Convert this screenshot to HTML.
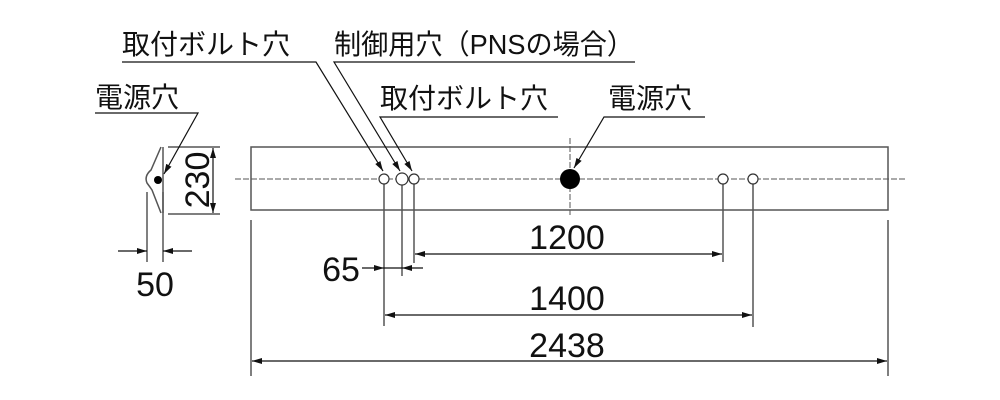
<!DOCTYPE html>
<html><head><meta charset="utf-8"><style>
html,body{margin:0;padding:0;background:#fff;}
svg{display:block;}
text{font-family:"Liberation Sans","Noto Sans CJK JP",sans-serif;fill:#111;}
</style></head><body>
<svg width="1000" height="400" viewBox="0 0 1000 400" xmlns="http://www.w3.org/2000/svg">
<defs>
<marker id="a" viewBox="0 0 10 6" refX="10" refY="3" markerWidth="10" markerHeight="6" markerUnits="userSpaceOnUse" orient="auto"><path d="M0,0L10,3L0,6z" fill="#111"/></marker>
</defs>
<g stroke="#555" stroke-width="1.5" fill="none">
<rect x="251" y="147" width="637" height="63"/>
<line x1="235" y1="179" x2="905" y2="179" stroke-dasharray="6,2" stroke-width="1"/>
<line x1="570" y1="138" x2="570" y2="215" stroke-dasharray="6,2" stroke-width="1"/>
<line x1="384" y1="184" x2="384" y2="326"/>
<line x1="402" y1="185" x2="402" y2="276"/>
<line x1="414" y1="184" x2="414" y2="263"/>
<line x1="723" y1="184" x2="723" y2="262"/>
<line x1="753" y1="184" x2="753" y2="327"/>
<line x1="251" y1="220" x2="251" y2="376"/>
<line x1="888" y1="220" x2="888" y2="376"/>
<line x1="163" y1="147" x2="163" y2="213"/>
<path d="M161,147 L151,170 Q144,176 147,183 Q150,187 152,190 L161,213"/>
<line x1="168" y1="147" x2="220" y2="147"/>
<line x1="168" y1="214" x2="220" y2="214"/>
<line x1="147" y1="192" x2="147" y2="262"/>
<line x1="163" y1="192" x2="163" y2="262"/>
</g>
<circle cx="158" cy="180" r="4" fill="#000"/>
<g stroke="#333" stroke-width="1.2" fill="#fff">
<circle cx="384" cy="179" r="5"/>
<circle cx="402" cy="179" r="6"/>
<circle cx="414" cy="179" r="5"/>
<circle cx="723" cy="179" r="5"/>
<circle cx="753" cy="179" r="5"/>
</g>
<circle cx="570" cy="179" r="10" fill="#000"/>
<g stroke="#111" stroke-width="1.2" fill="none">
<line x1="213" y1="179" x2="213" y2="148" marker-end="url(#a)"/>
<line x1="213" y1="179" x2="213" y2="213" marker-end="url(#a)"/>
<line x1="118" y1="251" x2="147" y2="251" marker-end="url(#a)"/>
<line x1="192" y1="251" x2="163" y2="251" marker-end="url(#a)"/>
<line x1="568" y1="254" x2="415" y2="254" marker-end="url(#a)"/>
<line x1="568" y1="254" x2="722" y2="254" marker-end="url(#a)"/>
<line x1="362" y1="268" x2="384" y2="268" marker-end="url(#a)"/>
<line x1="384" y1="268" x2="402" y2="268"/>
<line x1="423" y1="268" x2="402" y2="268" marker-end="url(#a)"/>
<line x1="568" y1="315" x2="385" y2="315" marker-end="url(#a)"/>
<line x1="568" y1="315" x2="752" y2="315" marker-end="url(#a)"/>
<line x1="568" y1="361" x2="252" y2="361" marker-end="url(#a)"/>
<line x1="568" y1="361" x2="887" y2="361" marker-end="url(#a)"/>
<polyline points="122,62 316,62 383,171" marker-end="url(#a)"/>
<polyline points="635,62 334,62 400,171" marker-end="url(#a)"/>
<polyline points="558,117 380,117 412,171" marker-end="url(#a)"/>
<polyline points="705,117 604,117 574,168" marker-end="url(#a)"/>
<polyline points="95,113 198,113 164,174" marker-end="url(#a)"/>
</g>
<g font-size="28">
<text x="122" y="54">取付ボルト穴</text>
<text x="334" y="54" textLength="300" lengthAdjust="spacingAndGlyphs">制御用穴（PNSの場合）</text>
<text x="380" y="108">取付ボルト穴</text>
<text x="608" y="108">電源穴</text>
<text x="95" y="107">電源穴</text>
</g>
<g font-size="34" text-anchor="middle">
<text x="567" y="249">1200</text>
<text x="567" y="310">1400</text>
<text x="567" y="357">2438</text>
<text x="341" y="281">65</text>
<text x="155" y="296">50</text>
<text transform="translate(209,180) rotate(-90)" y="0">230</text>
</g>
</svg>
</body></html>
